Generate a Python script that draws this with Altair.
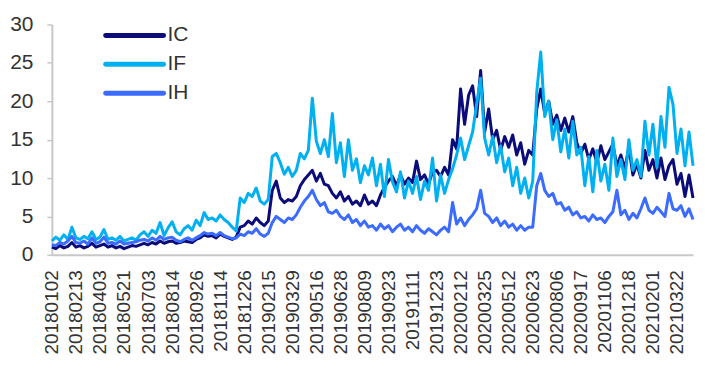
import altair as alt
import pandas as pd

# ---- data ----
tick_labels = [
    "20180102", "20180213", "20180403", "20180521", "20180703", "20180814",
    "20180926", "20181114", "20181226", "20190215", "20190329", "20190516",
    "20190628", "20190809", "20190923", "20191111", "20191223", "20200212",
    "20200325", "20200512", "20200623", "20200806", "20200917", "20201106",
    "20201218", "20210201", "20210322",
]
series_names = ["IC", "IF", "IH"]
series_colors = ["#0B0B7A", "#00B0F0", "#3B6BFF"]
step_days = 5          # sampling step (trading days) of the value lists
days_per_label = 30    # trading days between tick labels

ic_values = [
    1.0, 0.8, 1.2, 0.9, 1.1, 1.6, 1.0, 1.2, 0.9, 1.1,
    1.5, 1.0, 1.2, 1.4, 1.0, 1.2, 0.9, 1.1, 0.8, 1.0,
    1.2, 1.1, 1.3, 1.5, 1.3, 1.6, 1.4, 1.8, 1.5, 1.7,
    1.8, 1.5, 1.6, 1.8, 1.7, 1.6, 2.0, 2.2, 2.6, 2.4,
    2.5, 2.2, 2.7, 2.4, 2.2, 2.0, 2.3, 3.6, 3.8, 4.4,
    4.0, 4.8, 4.2, 3.8, 4.4, 8.4, 9.6, 7.4, 6.8, 7.2,
    7.0, 7.6, 9.0, 9.8, 10.4, 11.0, 9.6, 10.6, 9.2, 9.0,
    8.0, 7.4, 8.2, 7.0, 7.6, 6.6, 7.0, 6.4, 7.8, 6.6,
    7.0, 6.4, 7.8, 8.8, 9.6, 10.2, 9.0, 10.4, 9.2, 10.0,
    9.4, 12.2, 9.8, 10.4, 9.2, 10.8, 11.0, 10.2, 11.4, 10.4,
    15.0, 13.8, 21.6, 17.0, 20.8, 22.0, 18.0, 24.0, 16.0, 19.0,
    15.0, 16.2, 13.6, 15.4, 14.0, 15.6, 13.0, 14.6, 11.8, 13.6,
    13.0, 19.0, 21.6, 18.4, 20.0, 17.0, 18.2, 16.2, 17.8, 16.0,
    18.0, 14.6, 13.2, 14.4, 12.4, 13.8, 12.0, 14.2, 12.4, 13.4,
    14.4, 11.6, 13.0, 11.2, 14.0, 10.4, 11.8, 10.0, 13.6, 11.0,
    12.4, 10.0, 12.6, 9.8, 11.6, 12.4, 9.2, 10.6, 7.6, 10.4, 7.4,
]
if_values = [
    1.8, 2.3, 1.9, 2.6, 2.0, 3.6, 2.2, 2.0, 2.4, 2.1,
    3.0, 2.0, 2.3, 3.3, 2.0, 2.2, 1.9, 2.4, 1.8, 2.0,
    2.2, 1.9, 2.6, 3.0, 2.4, 3.2, 2.8, 4.2, 2.5, 3.5,
    4.3, 3.0, 2.6, 3.4, 3.8, 3.2, 4.5, 3.8, 5.5, 4.6,
    4.8, 4.4, 5.2, 4.6, 4.2, 3.6, 3.1, 7.4, 6.8, 8.0,
    7.6, 8.7, 7.0, 6.6, 7.2, 12.8, 13.2, 12.0, 10.5, 11.4,
    10.2, 11.0, 13.2, 12.5, 13.6, 20.4, 14.8, 13.2, 15.0, 12.8,
    18.4, 12.0, 14.6, 10.2, 15.0, 11.0, 12.5, 9.4, 11.6, 10.4,
    12.6, 9.0, 11.8, 7.6, 12.4, 9.5, 8.2, 10.8, 7.4, 9.6,
    8.0, 10.2, 7.2, 9.6, 8.4, 12.6, 7.0, 10.4, 8.0, 9.8,
    11.2, 13.0, 15.2, 12.4, 14.2, 16.0, 19.6, 23.0, 15.2, 13.0,
    15.4, 12.0, 14.2, 10.8, 12.6, 9.0, 11.4, 8.0, 10.0, 7.4,
    9.6, 21.2, 26.4, 18.0, 20.0, 15.0, 17.6, 13.4, 16.4, 12.6,
    17.4, 13.0, 14.0, 9.0, 12.8, 8.2, 13.6, 9.6, 11.8, 8.4,
    15.2, 10.2, 12.4, 9.8, 15.0, 11.0, 12.4, 10.2, 17.4, 13.0,
    17.0, 11.4, 18.0, 14.0, 21.8, 19.6, 13.2, 16.4, 11.6, 16.0, 11.6,
]
ih_values = [
    1.3, 1.2, 1.6, 1.4, 1.8, 2.4, 1.6, 1.5, 1.8, 1.4,
    2.2, 1.5, 1.7, 2.3, 1.5, 1.6, 1.4, 1.8, 1.4, 1.5,
    1.6, 1.7, 1.9, 2.0, 1.8, 2.2, 1.9, 2.4, 2.0, 2.2,
    2.3, 1.9, 1.7, 2.0, 2.2, 1.9, 2.2, 2.5, 2.9, 2.7,
    2.8, 2.5, 2.9, 2.5, 2.3, 2.1, 2.2, 2.7, 2.5, 3.0,
    2.8, 3.4, 2.7, 2.4, 2.8, 4.2, 5.0, 4.6, 4.2, 4.8,
    4.6, 5.2, 6.2, 7.0, 7.6, 8.4, 7.2, 6.4, 6.8, 5.6,
    5.4, 5.8, 5.0, 4.6, 5.2, 4.2, 4.6, 3.8, 4.4, 3.6,
    3.8, 3.2, 4.0, 3.4, 3.8, 3.0, 3.6, 4.0, 3.2, 3.6,
    3.0, 3.8, 3.2, 2.8, 3.4, 3.0, 2.6, 3.2, 3.6, 3.0,
    6.8, 4.0, 4.8, 3.8, 4.6, 5.2, 6.0, 8.4, 5.4, 5.0,
    4.2, 4.8, 3.8, 4.4, 3.6, 4.0, 3.2, 3.8, 3.2, 3.6,
    3.6, 9.0, 10.6, 8.4, 7.6, 8.0, 6.6, 6.8, 5.8, 6.2,
    5.2, 5.6, 4.8, 5.0, 4.4, 5.2, 4.6, 4.8, 4.2, 5.0,
    5.6, 8.4, 5.2, 5.8, 4.6, 5.4, 4.8, 6.0, 7.4, 5.8,
    5.4, 6.2, 5.6, 5.0, 8.0, 6.0, 5.8, 6.4, 5.0, 6.0, 4.6,
]

# ---- build table ----
rows = []
for name, vals in zip(series_names, [ic_values, if_values, ih_values]):
    for k, v in enumerate(vals):
        rows.append({"day": k * step_days, "value": v, "series": name})
df = pd.DataFrame(rows)
legend_df = pd.DataFrame({"series": series_names})

label_expr = (
    "[" + ",".join("'" + t + "'" for t in tick_labels) + "]"
    + "[round(datum.value/" + str(days_per_label) + ")]"
)
tick_vals = [i * days_per_label for i in range(len(tick_labels))]

FONT = "Liberation Sans"
TEXT = "#333333"
AXIS = "#C8C8C8"

color_scale = alt.Scale(domain=series_names, range=series_colors)

lines = alt.Chart(df).mark_line(strokeWidth=3, strokeJoin="round").encode(
    x=alt.X(
        "day:Q",
        scale=alt.Scale(domain=[0, 800], nice=False, zero=False),
        axis=alt.Axis(
            values=tick_vals, labelExpr=label_expr, labelAngle=-90,
            title=None, grid=False, ticks=False, tickSize=0, labelPadding=15,
            labelFontSize=19, labelOverlap=False, labelBound=False,
        ),
    ),
    y=alt.Y(
        "value:Q",
        scale=alt.Scale(domain=[0, 30], nice=False),
        axis=alt.Axis(
            values=[0, 5, 10, 15, 20, 25, 30], title=None, grid=False,
            tickSize=5, labelPadding=14, labelFontSize=21,
        ),
    ),
    color=alt.Color("series:N", scale=color_scale, legend=None),
)

leg_y = alt.Y(
    "series:N",
    scale=alt.Scale(type="point", domain=series_names, range=[11, 69], padding=0),
    axis=None,
)
leg_rule = alt.Chart(legend_df).mark_rule(strokeWidth=5, strokeCap="round").encode(
    x=alt.value(54), x2=alt.value(112), y=leg_y,
    color=alt.Color("series:N", scale=color_scale, legend=None),
)
leg_text = alt.Chart(legend_df).mark_text(
    align="left", baseline="middle", fontSize=21, font=FONT, color=TEXT
).encode(x=alt.value(116), y=leg_y, text="series:N")

chart = (
    alt.layer(lines, leg_rule, leg_text)
    .resolve_scale(y="independent")
    .properties(
        width=643, height=231,
        autosize=alt.AutoSizeParams(type="none"),
        padding={"left": 44, "top": 16, "right": 4, "bottom": 112},
    )
    .configure_view(stroke=None)
    .configure_axis(
        domainColor=AXIS, domainWidth=2, tickColor=AXIS, tickWidth=1.5,
        labelColor=TEXT, labelFont=FONT,
    )
)

chart.save("out.html", embed_options={"renderer": "svg", "actions": False})
